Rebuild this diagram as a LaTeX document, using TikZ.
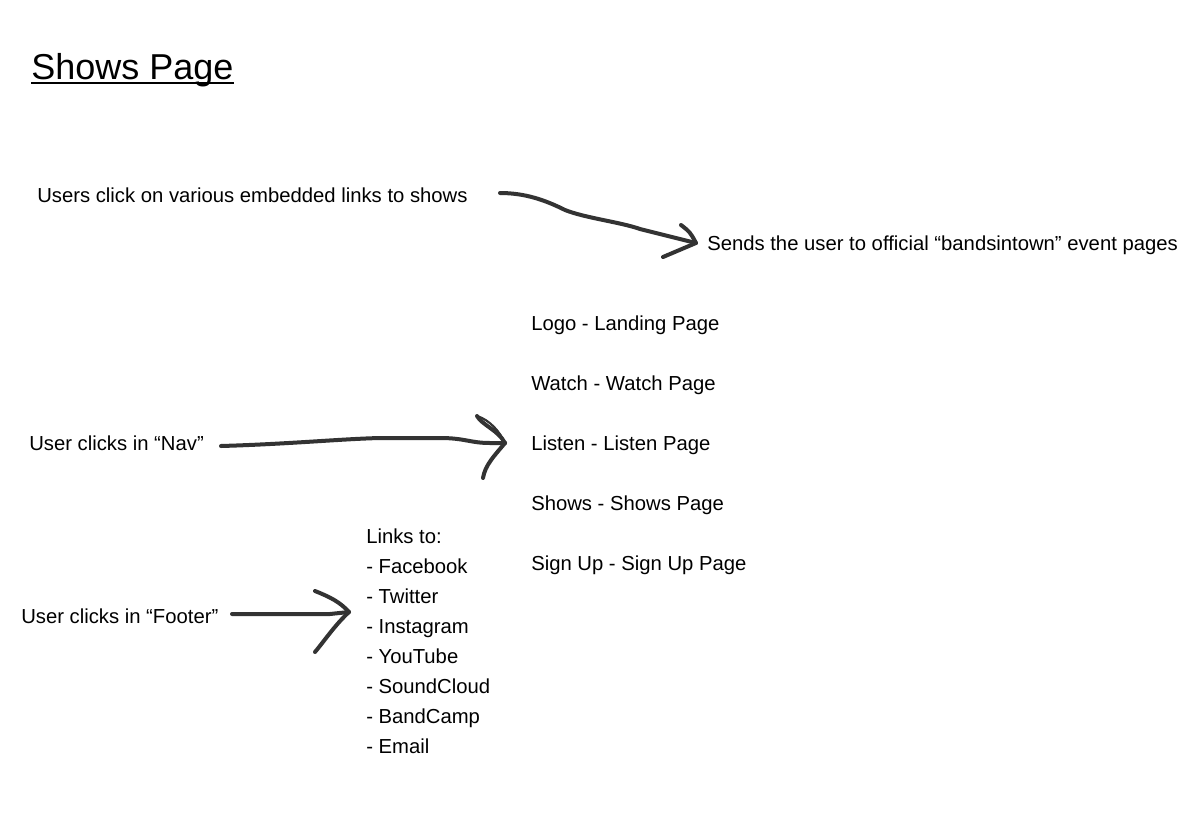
\documentclass[tikz,border=0pt]{standalone}
\usepackage{fontspec}
\setmainfont{Liberation Sans}
\begin{document}
\begin{tikzpicture}[x=0.75pt,y=-0.75pt,
  txt/.style={anchor=base west,inner sep=0pt,font=\fontsize{15.2pt}{17pt}\selectfont},
  hand/.style={draw=black!80,line width=3pt,line cap=round,line join=round}]
\useasboundingbox[fill=white] (0,0) rectangle (1191,828);
% title
\node[anchor=base west,inner sep=0pt,font=\fontsize{27pt}{30pt}\selectfont] (title) at (31,79) {Shows Page};
\draw[line width=1.5pt] ([yshift=-3pt]title.base west) -- ([yshift=-3pt]title.base east);
% texts
\node[txt] (users) at (37,202) {Users click on various embedded links to shows};
\node[txt] (sends) at (707,250) {Sends the user to official “bandsintown” event pages};
\node[txt] (nav) at (29,450) {User clicks in “Nav”};
\node[txt] (footer) at (21,623) {User clicks in “Footer”};
\node[txt] (logo) at (531,330) {Logo - Landing Page};
\node[txt] (watch) at (531,390) {Watch - Watch Page};
\node[txt] (listen) at (531,450) {Listen - Listen Page};
\node[txt] (shows) at (531,510) {Shows - Shows Page};
\node[txt] (signup) at (531,570) {Sign Up - Sign Up Page};
\node[txt] (links) at (366,543) {Links to:};
\node[txt] (fb) at (366,573) {- Facebook};
\node[txt] (tw) at (366,603) {- Twitter};
\node[txt] (ig) at (366,633) {- Instagram};
\node[txt] (yt) at (366,663) {- YouTube};
\node[txt] (sc) at (366,693) {- SoundCloud};
\node[txt] (bc) at (366,723) {- BandCamp};
\node[txt] (em) at (366,753) {- Email};
% arrow 1
\coordinate (a1s) at (500,193);
\coordinate (a1e) at (696,243);
\draw[hand] (a1s) .. controls (525,193) and (545,200) .. (565,210)
  .. controls (585,218) and (620,222) .. (640,229) -- (a1e);
\draw[hand] (681,225) .. controls (690,232) .. (a1e) .. controls (680,250) .. (663,257);
% arrow 2
\coordinate (a2s) at (221,446);
\coordinate (a2e) at (505,443);
\draw[hand] (a2s) .. controls (290,444) and (340,439) .. (380,438)
  -- (440,438) .. controls (465,438) and (470,443) .. (490,443) -- (a2e);
\draw[hand] (477,416) .. controls (482,425) and (498,430) .. (a2e);
\draw[hand,line width=1.6pt] (477,416) .. controls (490,420) and (500,432) .. (a2e);
\draw[hand] (a2e) .. controls (495,455) and (485,465) .. (483,478);
% arrow 3
\coordinate (a3s) at (232,614);
\coordinate (a3e) at (349,612);
\draw[hand] (a3s) -- (330,614) -- (a3e);
\draw[hand] (315,591) .. controls (330,597) and (340,602) .. (a3e)
  .. controls (335,625) and (325,640) .. (315,652);
\end{tikzpicture}
\end{document}
